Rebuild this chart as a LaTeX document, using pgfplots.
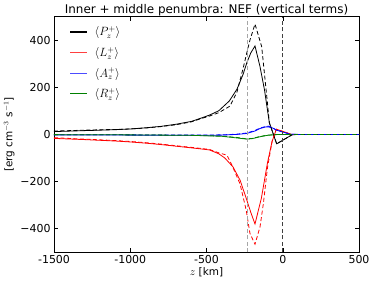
\documentclass[border=0pt]{standalone}
\usepackage{fontspec}
\setmainfont{DejaVu Sans}
\usepackage{pgfplots}
\pgfplotsset{compat=1.18}
\definecolor{mplgreen}{rgb}{0,0.5,0}
\definecolor{mplblue}{rgb}{0,0,1}
\begin{document}
\begin{tikzpicture}
\path[use as bounding box] (-54bp,-33.7bp) rectangle (320bp,252.3bp);
\begin{axis}[
  scale only axis, width=305bp, height=235.8bp,
  xmin=-1500, xmax=500, ymin=-500, ymax=500,
  xtick={-1500,-1000,-500,0,500},
  xticklabels={-1500,-1000,-500,0,500},
  ytick={-400,-200,0,200,400},
  yticklabels={−400,−200,0,200,400},
  tick align=inside, tick pos=both, major tick length=4bp,
  minor tick num=0,
  /pgf/number format/assume math mode=true,
  tick label style={font=\fontsize{11}{13}\selectfont},
  title={Inner + middle penumbra: NEF (vertical terms)},
  title style={font=\fontsize{12}{14}\selectfont, yshift=-8.5bp},
  xlabel={$z$ [km]},
  ylabel={[erg cm$^{-3}$ s$^{-1}$]},
  label style={font=\fontsize{10.5}{12}\selectfont},
  xlabel style={yshift=3bp},
  ylabel style={yshift=-1bp},
  axis line style={line width=0.6bp},
  every tick/.style={line width=0.5bp},
  legend style={draw=none, fill=none, at={(0.04,0.975)}, anchor=north west,
    font=\fontsize{12}{14}\selectfont, row sep=6bp},
  legend image code/.code={\draw[#1] (0cm,0cm) -- (0.6cm,0cm); \path (0.6cm+5bp,0cm);},
  legend cell align=left,
  clip=true,
]
\addlegendimage{draw=black, line width=1.3bp}
\addlegendentry{$\langle P_z^+\rangle$}
\addlegendimage{draw=red!75, line width=1.3bp}
\addlegendentry{$\langle L_z^+\rangle$}
\addlegendimage{draw=mplblue!70, line width=1.3bp}
\addlegendentry{$\langle A_z^+\rangle$}
\addlegendimage{draw=mplgreen, line width=1.3bp}
\addlegendentry{$\langle R_z^+\rangle$}
\addplot[color=black, line width=0.8bp, forget plot] coordinates {
(-1500,12)(-1300,16)(-1100,20)(-1000,23)(-900,28)(-800,34)(-700,43)(-600,55)(-540,68)(-480,82)(-420,100)(-350,142)(-300,192)(-260,255)(-235,305)(-210,345)(-182,375)(-150,290)(-120,190)(-88,50)(-40,-40)(60,-2)(100,0)(500,0)};
\addplot[color=red, line width=0.8bp, forget plot] coordinates {
(-1500,-17)(-1300,-22)(-1100,-28)(-1000,-32)(-900,-37)(-800,-43)(-700,-50)(-600,-57)(-543,-61)(-480,-66)(-420,-82)(-380,-100)(-326,-138)(-280,-194)(-240,-270)(-210,-330)(-182,-380)(-140,-270)(-100,-120)(-70,-30)(-42,22)(58,0)(100,0)(500,0)};
\addplot[color=mplblue, line width=0.8bp, forget plot] coordinates {
(-1500,-2)(-1000,-3)(-600,-4)(-400,-3)(-300,0)(-236,4)(-180,15)(-149,25)(-110,32)(-95,32)(-70,28)(-40,18)(48,1)(100,0)(500,0)};
\addplot[color=mplgreen, line width=0.8bp, forget plot] coordinates {
(-1500,-1)(-1000,-2)(-600,-4)(-400,-8)(-300,-15)(-236,-20)(-200,-18)(-150,-10)(-100,-4)(-50,-1)(0,0)(500,0)};
% dashed counterparts
\addplot[black, line width=0.8bp, dash pattern=on 4bp off 2.5bp, forget plot] coordinates {
(-1500,14)(-1300,18)(-1100,21)(-1000,23)(-900,27)(-800,33)(-700,41)(-600,53)(-540,66)(-480,78)(-420,92)(-367,112)(-346,120)(-300,180)(-260,280)(-236,345)(-215,400)(-182,468)(-138,372)(-100,130)(-88,50)(-40,-40)(60,-2)(100,0)(500,0)};
\addplot[red, line width=0.8bp, dash pattern=on 4bp off 2.5bp, forget plot] coordinates {
(-1500,-14)(-1300,-20)(-1100,-26)(-1000,-30)(-900,-35)(-800,-41)(-700,-48)(-600,-55)(-543,-59)(-480,-64)(-420,-78)(-366,-88)(-330,-135)(-280,-210)(-240,-320)(-215,-420)(-182,-466)(-149,-392)(-127,-293)(-100,-140)(-70,-30)(-42,22)(58,0)(100,0)(500,0)};
\addplot[mplblue, line width=0.8bp, dash pattern=on 4bp off 2.5bp, forget plot] coordinates {
(-1500,-1)(-1000,-2)(-600,-3)(-400,-2)(-300,1)(-236,6)(-180,17)(-149,27)(-110,34)(-95,35)(-70,29)(-40,18)(48,1)(100,0)(500,0)};
\addplot[mplgreen, line width=0.8bp, dash pattern=on 4bp off 2.5bp, forget plot] coordinates {
(-1500,-1)(-1000,-2)(-600,-4)(-400,-7)(-300,-13)(-236,-19)(-200,-17)(-150,-9)(-100,-3)(-50,-1)(0,0)(500,0)};
% vertical reference lines
\addplot[gray!70, line width=0.8bp, dash pattern=on 4bp off 2.5bp, forget plot] coordinates {(-235,-500)(-235,500)};
\addplot[black!75, line width=1bp, dash pattern=on 4bp off 2.5bp, forget plot] coordinates {(0,-500)(0,500)};
\end{axis}
\end{tikzpicture}
\end{document}
